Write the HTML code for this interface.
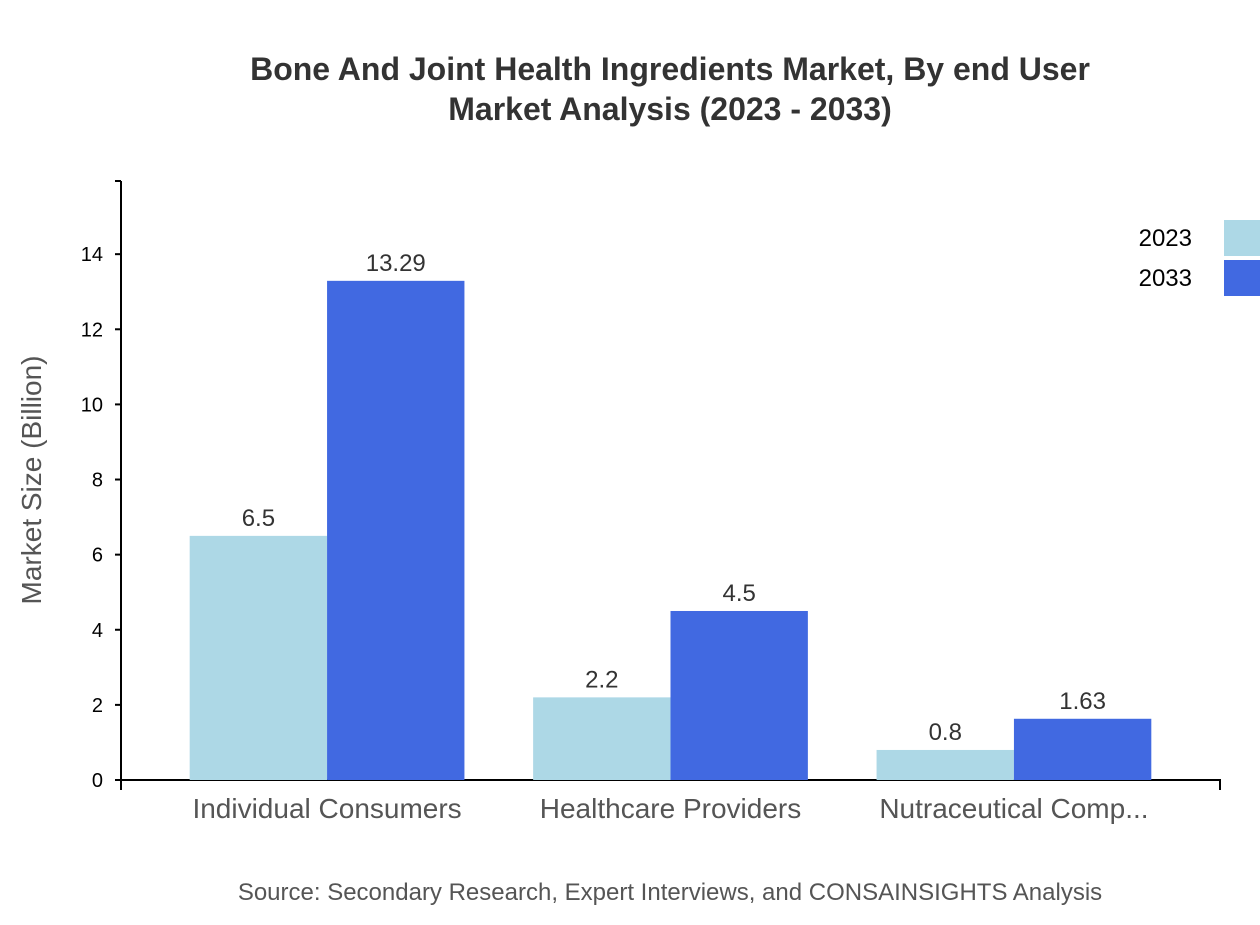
<!DOCTYPE html>
<html><head><meta charset="utf-8"><style>
body{margin:0;background:#fff;width:1260px;height:920px;overflow:hidden;font-family:"Liberation Sans",Arial,sans-serif}
</style></head><body>
<svg width="1260" height="920" style="font-family:'Liberation Sans',Arial,sans-serif">
<text x="670" y="80" text-anchor="middle" font-size="32" font-weight="bold" fill="#333">Bone And Joint Health Ingredients Market, By end User</text>
<text x="670" y="120" text-anchor="middle" font-size="32" font-weight="bold" fill="#333">Market Analysis (2023 - 2033)</text>
<text transform="translate(41,480) rotate(-90)" text-anchor="middle" font-size="28" fill="#555">Market Size (Billion)</text>
<g id="yaxis"></g>
<g id="xaxis"></g>
<g id="bars"></g>
<g>
<text x="1192" y="246" text-anchor="end" font-size="24" fill="#000">2023</text>
<rect x="1224" y="220" width="40" height="36" fill="#add8e6"/>
<text x="1192" y="286" text-anchor="end" font-size="24" fill="#000">2033</text>
<rect x="1224" y="260" width="40" height="36" fill="#4169e1"/>
</g>
<text x="670" y="900" text-anchor="middle" font-size="24" fill="#555">Source: Secondary Research, Expert Interviews, and CONSAINSIGHTS Analysis</text>
</svg>
<script>
const categories=["Individual Consumers","Healthcare Providers","Nutraceutical Comp..."];
const values2023=[6.5,2.2,0.8];
const values2033=[13.29,4.5,1.63];
const yTicks=[0,2,4,6,8,10,12,14];
const NS="http://www.w3.org/2000/svg";
const x0=121,x1=1220,yb=780,yt=181;
const ymax=Math.max(...values2033,...values2023)*1.2;
const y=v=>yb-(v/ymax)*(yb-yt);
const step=(x1-x0)/3.2, bw=step*0.8;
const bandX=i=>x0+step*0.2+i*step;
function el(t,a,p){const e=document.createElementNS(NS,t);for(const k in a)e.setAttribute(k,a[k]);p.appendChild(e);return e;}
const ya=document.getElementById('yaxis'),xa=document.getElementById('xaxis'),bg=document.getElementById('bars');
let l=el('line',{x1:x0,x2:x0,y1:yt,y2:yb,stroke:'#000','stroke-width':2},ya);


let t0=el('line',{x1:x0-6,x2:x0,y1:yt,y2:yt,stroke:'#000','stroke-width':2},ya);


yTicks.forEach(v=>{
 const tk=el('line',{x1:x0-6,x2:x0,y1:y(v),y2:y(v),stroke:'#000','stroke-width':2},ya);
 
 
 const tx=el('text',{x:x0-18,y:y(v)+7,'text-anchor':'end','font-size':20,fill:'#000'},ya);
 tx.textContent=v;
 
 
});
const xl=el('path',{d:`M${x0},${yb+10}V${yb}H${x1}V${yb+10}`,stroke:'#000','stroke-width':2,fill:'none'},xa);


categories.forEach((c,i)=>{
 const bx=bandX(i),half=bw/2;
 [[values2023[i],'#add8e6',bx,'bar-2023'],[values2033[i],'#4169e1',bx+half,'bar-2033']].forEach(([v,col,xx,nm])=>{
  const r=el('rect',{x:xx,y:y(v),width:half,height:yb-y(v),fill:col},bg);
  
  
  const lb=el('text',{x:xx+half/2,y:y(v)-10,'text-anchor':'middle','font-size':24,fill:'#333'},bg);
  lb.textContent=v;
  
  
 });
 const ct=el('text',{x:bx+half,y:818,'text-anchor':'middle','font-size':28,fill:'#555'},xa);
 ct.textContent=c;
 
 
});
</script>
</body></html>
